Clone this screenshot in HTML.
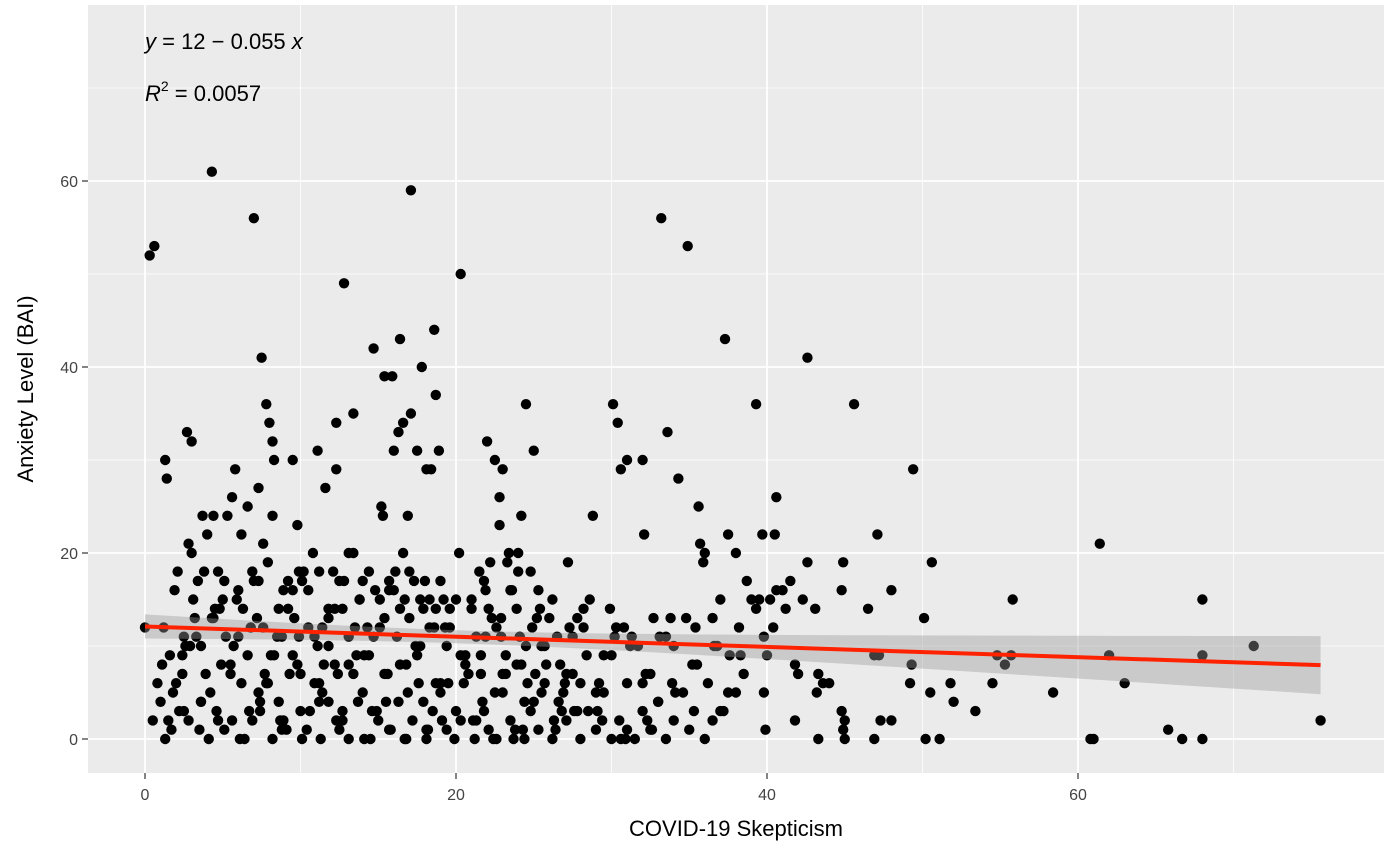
<!DOCTYPE html>
<html><head><meta charset="utf-8">
<style>
html,body{margin:0;padding:0;background:#fff;}
svg text{font-family:"Liberation Sans",Arial,sans-serif;}
</style></head>
<body>
<svg id="chart" width="1394" height="854" xmlns="http://www.w3.org/2000/svg">
<rect x="0" y="0" width="1394" height="854" fill="#fff"/>
<rect x="88" y="5" width="1296" height="768" fill="#ebebeb"/>
<g id="grid"></g>
<g id="points"></g>
<g id="fit"></g>
<g id="axes"></g>
<text x="145" y="49" font-size="22" fill="#000"><tspan font-style="italic">y</tspan> = 12 − 0.055 <tspan font-style="italic">x</tspan></text>
<text x="145" y="101" font-size="22" fill="#000"><tspan font-style="italic">R</tspan><tspan font-size="14" dy="-10">2</tspan><tspan dy="10"> = 0.0057</tspan></text>
<text x="736" y="836" font-size="22" text-anchor="middle" fill="#000">COVID-19 Skepticism</text>
<text transform="translate(33,389) rotate(-90)" font-size="22" text-anchor="middle" fill="#000">Anxiety Level (BAI)</text>
</svg>
<script>
const xTicks=[0,20,40,60];
const yTicks=[0,20,40,60];
const xMinor=[10,30,50,70];
const yMinor=[10,30,50,70];
const fitIntercept=12.1;
const fitSlope=-0.055;
const fitXRange=[0,75.6];
const bandMinHalf=0.7, bandCenter=20, bandK=0.003;
const pointsX=[0,0.3,0.6,4.3,7,17.1,12.8,20.3,33.2,34.9,37.3,42.6,45.6,39.3,49.4,61.4,68,71.3,75.6,66.7,65.8,68,68,63,62,60.8,61,58.4,55.8,55.3,55.7,54.5,54.8,53.4,51.8,52,51.1,50.2,50.5,50.6,50.1,49.3,49.2,48,48,47.1,47.3,46.9,46.9,46.5,47.2,45,44.9,44.8,45,44.8,44.9,44,43.6,43.3,43.3,43.1,42.6,42,41.8,41.8,41.5,41,40.6,40.6,40.2,40,39.8,39.7,39.5,39.9,39.8,
7.5,7.8,8,8.2,9.5,14.7,15.4,15.9,16.4,17.1,17.8,18.6,18.7,12.3,13.4,11.6,11.1,1.3,1.4,2.7,3,4.4,5.8,7.3,8.3,9.8,12.3,15.2,16,16.9,17.5,18.1,18.4,18.9,16.3,16.6,
22,22.5,23,24.2,24.5,25,30.1,30.4,30.6,31,32,32.1,33.6,34.3,35.6,35.7,37.5,38,36,36.5,37,38.7,39.3,40.5,41.2,42.3,43.2,24,23.4,22.8,21.8,
1,1.3,1.5,2,2.4,2.8,3.3,3.6,4.1,4.6,5.1,5.5,6,6.4,6.9,7.3,7.7,8.2,8.6,9.1,9.5,10,10.4,10.9,11.3,11.8,12.2,12.7,13.1,13.6,14,14.5,14.9,15.4,15.8,16.3,16.7,17.2,17.6,18.1,18.5,19,19.4,19.9,20.3,20.8,21.2,21.7,22.1,22.6,23,23.5,23.9,24.4,24.8,25.3,25.7,26.2,26.6,27.1,27.5,28,28.5,29,29.5,30,30.5,31,31.5,32,32.5,33,33.5,34,35,36,37,38,
0.8,1.6,2.2,2.9,3.5,4.2,4.9,5.6,6.2,6.8,7.4,8.1,8.7,9.3,9.9,10.6,11.2,11.8,12.5,13.1,13.7,14.3,15,15.6,16.2,16.9,17.5,18.1,18.7,19.4,20,20.6,21.3,21.9,22.5,23.2,23.8,24.4,25.1,25.7,26.3,27,27.6,28.2,29,30,31,32,33,34,35.5,36.5,37.5,38.5,
1.2,1.9,2.6,3.2,3.9,4.5,5.2,5.9,6.6,7.2,7.9,8.5,9.2,9.8,10.5,11.1,11.8,12.4,13.1,13.8,14.4,15.1,15.7,16.4,17,17.7,18.3,19,19.6,20.3,21,21.6,22.3,22.9,23.6,24.2,24.9,25.5,26.2,26.9,27.5,28.2,29.5,30.8,32.2,33.5,34.8,36.2,37.6,39,40.4,
0.5,1.1,1.8,2.5,3.1,3.8,4.4,5.1,5.7,6.3,7,7.6,8.3,8.9,9.6,10.2,10.9,11.5,12.2,12.8,13.5,14.1,14.8,15.4,16.1,16.7,17.4,18,18.7,19.3,20,20.6,21.3,21.9,22.6,23.2,23.9,24.5,25.2,25.8,26.5,27.1,27.8,28.4,29.2,30.2,31.2,32.5,33.8,35.2,36.6,38.2,
2.1,2.8,3.4,4,4.7,5.3,6,6.6,7.3,7.9,8.6,9.2,9.9,10.5,11.2,11.8,12.5,13.1,13.8,14.4,15.1,15.7,16.4,17,17.7,18.3,19,19.6,20.2,21,21.6,22.2,22.9,23.5,24.1,24.8,25.4,26,26.7,27.3,28.6,29.9,31.3,32.7,34.1,35.4,36.8,38.3,
3,3.7,4.3,5,5.6,6.2,6.9,7.6,8.2,8.8,9.5,10.1,10.8,11.4,12.1,12.7,13.4,14,14.7,15.3,16,16.6,17.3,17.9,18.6,19.2,21.5,22.1,22.8,23.3,24,24.6,25.3,27.2,28.8,30.3,31.7,33.1,35.9,37.2,
2.5,3.6,4.8,6.1,7.4,8.8,10.1,11.4,12.7,14.1,15.5,16.8,18.2,19.5,21.1,22.4,23.7,25,26.4,27.8,29.1,30.6,32.3,33.9,35.3,
1.7,2.4,3.6,4.7,5.5,6.7,7.8,8.9,10,11.2,12.3,13.4,14.6,15.7,16.8,17.9,19.1,20.5,21.8,23,24.3,25.5,26.8,28,29.4,30.9,32.6,34.6];
const pointsY=[12,52,53,61,56,59,49,50,56,53,43,41,36,36,29,21,15,10,2,0,1,0,9,6,9,0,0,5,15,8,9,6,9,3,6,4,0,0,5,19,13,8,6,16,2,22,2,0,9,14,9,0,1,3,2,16,19,6,6,7,0,14,19,7,8,2,17,16,16,26,15,9,11,22,15,1,5,
41,36,34,32,30,42,39,39,43,35,40,44,37,34,35,27,31,30,28,33,32,24,29,27,30,23,29,25,31,24,31,29,29,31,33,34,
32,30,29,24,36,31,36,34,29,30,30,22,33,28,25,21,22,20,20,13,15,17,14,22,14,15,5,18,20,26,17,
4,0,2,6,9,2,11,4,0,3,1,8,11,0,2,5,7,0,4,1,9,3,1,6,0,4,8,2,0,9,5,0,3,7,1,4,0,2,6,0,3,5,1,0,2,7,0,4,1,0,5,2,8,0,3,1,6,0,4,2,7,0,3,1,5,0,2,6,0,3,1,4,0,2,1,0,3,5,
6,9,3,10,1,5,8,2,6,12,4,9,2,7,11,3,6,10,1,8,4,12,2,7,11,5,9,1,6,10,3,8,2,11,5,9,1,4,7,10,2,6,3,12,5,9,1,6,4,10,8,2,5,7,
12,16,10,13,7,14,11,15,9,13,6,11,14,8,12,10,14,7,11,15,9,12,16,8,13,10,15,6,12,9,14,7,13,11,16,8,12,10,15,5,11,14,9,12,7,11,13,6,9,15,12,
2,8,5,11,15,18,13,17,10,14,17,12,9,16,13,18,11,8,14,17,12,9,16,13,18,15,10,17,14,12,15,9,11,16,12,7,14,10,13,8,11,7,13,9,6,11,10,7,13,8,10,12,
18,21,17,22,18,24,16,25,17,19,14,17,18,16,18,13,17,20,15,18,15,17,14,18,15,12,17,14,20,15,9,19,13,16,11,18,14,13,8,12,15,14,11,13,5,12,10,9,
20,24,13,15,26,22,18,21,24,11,16,17,20,12,18,14,20,17,11,24,16,20,17,14,12,15,18,14,23,19,20,6,16,19,24,12,10,11,19,3,
3,10,14,0,3,1,0,5,3,0,4,0,1,6,2,0,0,4,1,3,3,0,2,6,3,
1,7,4,2,7,3,6,2,7,4,2,7,3,1,8,4,2,6,3,7,1,5,3,6,2,0,1,5];
const X0=145, XS=15.55, Y0=739, YS=9.3;
const sx=v=>X0+v*XS, sy=v=>Y0-v*YS;
const NS="http://www.w3.org/2000/svg";
function mk(tag,attrs,parent){const e=document.createElementNS(NS,tag);for(const k in attrs)e.setAttribute(k,attrs[k]);parent.appendChild(e);return e;}
const grid=document.getElementById('grid');
yMinor.forEach(v=>{const l=mk('line',{x1:88,x2:1384,y1:sy(v),y2:sy(v),stroke:'#fff','stroke-width':0.8},grid);

});
xMinor.forEach(v=>{const l=mk('line',{y1:5,y2:773,x1:sx(v),x2:sx(v),stroke:'#fff','stroke-width':0.8},grid);

});
yTicks.forEach(v=>{const l=mk('line',{x1:88,x2:1384,y1:sy(v),y2:sy(v),stroke:'#fff','stroke-width':1.8},grid);

});
xTicks.forEach(v=>{const l=mk('line',{y1:5,y2:773,x1:sx(v),x2:sx(v),stroke:'#fff','stroke-width':1.8},grid);

});
const pts=document.getElementById('points');
const n=Math.min(pointsX.length,pointsY.length);
for(let i=0;i<n;i++){const c=mk('circle',{cx:sx(pointsX[i]),cy:sy(pointsY[i]),r:5.2,fill:'#000'},pts);

}
const fit=document.getElementById('fit');
let up=[],lo=[];
for(let k=0;k<=40;k++){const x=fitXRange[0]+(fitXRange[1]-fitXRange[0])*k/40;const y=fitIntercept+fitSlope*x;const h=Math.sqrt(bandMinHalf*bandMinHalf+bandK*(x-bandCenter)*(x-bandCenter));up.push(sx(x)+','+sy(y+h));lo.unshift(sx(x)+','+sy(y-h));}
const band=mk('polygon',{points:up.concat(lo).join(' '),fill:'#999','fill-opacity':0.4},fit);


const line=mk('line',{x1:sx(fitXRange[0]),y1:sy(fitIntercept+fitSlope*fitXRange[0]),x2:sx(fitXRange[1]),y2:sy(fitIntercept+fitSlope*fitXRange[1]),stroke:'#ff2200','stroke-width':4},fit);


const axes=document.getElementById('axes');
xTicks.forEach(v=>{const t=mk('line',{x1:sx(v),x2:sx(v),y1:773,y2:779,stroke:'#333','stroke-width':1.2},axes);


const tx=mk('text',{x:sx(v),y:800,'font-size':16,'text-anchor':'middle',fill:'#444'},axes);tx.textContent=v;

});
yTicks.forEach(v=>{const t=mk('line',{x1:82,x2:88,y1:sy(v),y2:sy(v),stroke:'#333','stroke-width':1.2},axes);


const tx=mk('text',{x:78,y:sy(v)+6,'font-size':16,'text-anchor':'end',fill:'#444'},axes);tx.textContent=v;

});
</script>
</body></html>
